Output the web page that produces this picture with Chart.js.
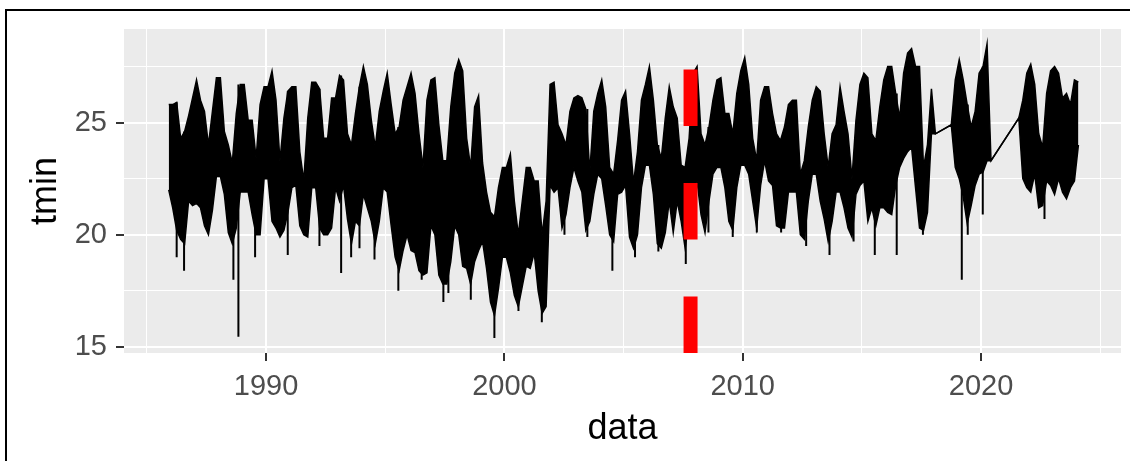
<!DOCTYPE html>
<html>
<head>
<meta charset="utf-8">
<script src="https://cdn.jsdelivr.net/npm/chart.js@4.4.0/dist/chart.umd.min.js"></script>
<style>
  html, body { margin: 0; padding: 0; background: #fff; overflow: hidden; }
  #wrap { position: relative; width: 1130px; height: 461px; }
  #frame { position: absolute; left: 5px; top: 9px; width: 1140px; height: 480px;
           border-left: 2px solid #000; border-top: 2px solid #000; }
  canvas { position: absolute; left: 0; top: 0; }
</style>
</head>
<body>
<div id="wrap"><canvas id="chart" width="1130" height="461"></canvas><div id="frame"></div></div>
<script>
// each year is split in six two-month bins (Jan-Feb ... Nov-Dec)
const firstYear = 1985;
const binsPerYear = 6;

// upper edge of the daily tmin band, per bin (null = no data)
const tminHigh = [
  null, null, null, null, null, 25.8, // 1985
  25.8, 25.9, 24.3, 24.6, 25.3, 26.1, // 1986
  26.9, 26.0, 25.5, 24.0, 25.5, 27.0, // 1987
  27.0, 24.6, 24.0, 23.2, 25.4, 26.7, // 1988
  26.7, 25.1, 25.1, 23.4, 25.8, 26.6, // 1989
  26.6, 27.3, 26.0, 23.3, 25.2, 26.4, // 1990
  26.6, 26.6, 23.7, 22.4, 25.2, 26.8, // 1991
  26.8, 26.5, 24.3, 24.3, 26.1, 26.1, // 1992
  27.1, 26.9, 24.5, 24.0, 25.4, 26.6, // 1993
  27.5, 26.7, 25.1, 23.9, 25.5, 26.4, // 1994
  27.2, 25.8, 24.5, 24.8, 26.0, 26.6, // 1995
  27.2, 26.3, 24.5, 23.0, 26.0, 26.9, // 1996
  27.0, 24.9, 23.3, 23.3, 25.7, 27.2, // 1997
  27.8, 27.3, 24.3, 23.0, 25.7, 26.2, // 1998
  23.2, 21.9, 21.0, 20.8, 22.1, 23.0, // 1999
  23.0, 23.6, 21.5, 20.0, 21.5, 23.0, // 2000
  23.0, 22.4, 22.4, 20.0, 21.5, 26.7, // 2001
  26.8, 24.9, 24.5, 24.0, 25.5, 26.1, // 2002
  26.2, 26.1, 25.6, 22.8, 25.5, 26.3, // 2003
  26.9, 25.7, 23.0, 22.7, 24.2, 26.0, // 2004
  26.4, 24.5, 22.3, 23.7, 26.0, 26.7, // 2005
  27.5, 26.0, 24.0, 23.4, 25.2, 26.6, // 2006
  25.7, 25.2, 23.1, 23.0, 24.3, 27.2, // 2007
  27.5, 24.5, 24.0, 24.8, 26.0, 26.9, // 2008
  27.0, 25.4, 25.4, 24.5, 26.3, 27.3, // 2009
  27.9, 26.7, 24.3, 23.3, 26.0, 26.6, // 2010
  26.6, 25.4, 24.5, 24.2, 24.8, 25.8, // 2011
  26.0, 26.0, 22.7, 23.3, 24.8, 26.0, // 2012
  26.6, 26.4, 24.5, 23.0, 24.5, 24.9, // 2013
  26.6, 25.5, 24.5, 22.5, 25.1, 26.7, // 2014
  27.2, 27.0, 24.5, 24.2, 25.7, 26.9, // 2015
  27.5, 27.5, 26.3, 25.2, 27.2, 28.1, // 2016
  28.3, 27.5, 27.5, 23.0, 24.0, 26.5, // 2017
  24.5, null, null, null, 24.9, 26.9, // 2018
  27.8, 26.9, 25.8, 24.8, 25.5, 27.2, // 2019
  27.5, 28.5, 23.3, null, null, null, // 2020
  null, null, null, 25.2, 26.0, 27.2, // 2021
  27.6, 26.7, 24.5, 23.9, 26.3, 27.3, // 2022
  27.5, 27.2, 26.1, 26.3, 25.8, 26.9, // 2023
  26.8                                // 2024
];

// lower edge of the daily tmin band, per bin
const tminLow = [
  null, null, null, null, null, 22.0, // 1985
  21.2, 20.2, 19.8, 19.6, 21.5, 21.3, // 1986
  21.4, 21.2, 20.4, 20.0, 21.1, 22.6, // 1987
  22.6, 21.8, 20.1, 19.6, 20.3, 21.9, // 1988
  21.9, 21.9, 20.9, 20.0, 20.0, 22.5, // 1989
  22.5, 20.6, 20.3, 19.9, 20.2, 21.0, // 1990
  22.1, 22.2, 20.4, 20.0, 19.9, 22.1, // 1991
  22.1, 20.3, 20.0, 20.0, 20.3, 22.1, // 1992
  21.5, 22.2, 20.7, 19.6, 20.6, 20.4, // 1993
  21.8, 21.2, 20.6, 19.6, 20.6, 22.1, // 1994
  21.9, 20.4, 19.0, 18.4, 19.3, 20.0, // 1995
  19.3, 19.2, 18.4, 18.2, 18.3, 20.4, // 1996
  20.0, 18.2, 17.8, 17.8, 18.8, 20.4, // 1997
  20.0, 18.6, 18.5, 17.8, 18.8, 19.3, // 1998
  19.7, 18.5, 17.0, 16.4, 17.6, 19.0, // 1999
  19.0, 18.3, 17.3, 16.8, 17.7, 18.6, // 2000
  18.5, 19.2, 17.5, 16.5, 16.8, 22.2, // 2001
  21.9, 22.1, 20.3, 20.9, 22.1, 23.0, // 2002
  22.4, 21.9, 20.2, 20.6, 21.8, 22.7, // 2003
  22.5, 21.3, 20.0, 19.7, 21.8, 21.9, // 2004
  22.2, 19.9, 19.4, 20.0, 22.1, 23.1, // 2005
  23.1, 21.8, 19.6, 19.4, 20.1, 21.5, // 2006
  20.1, 21.5, 20.6, 19.4, 20.7, 22.2, // 2007
  22.4, 20.9, 20.1, 21.5, 22.7, 23.0, // 2008
  23.0, 22.1, 20.6, 20.2, 22.1, 23.1, // 2009
  23.1, 22.7, 21.5, 20.3, 22.2, 23.3, // 2010
  22.4, 22.2, 20.4, 20.3, 20.3, 21.9, // 2011
  21.9, 21.9, 20.0, 19.8, 21.5, 22.7, // 2012
  22.7, 21.5, 20.7, 19.7, 20.6, 21.9, // 2013
  21.9, 21.2, 20.3, 19.9, 21.8, 22.2, // 2014
  22.4, 20.6, 21.2, 20.4, 21.2, 21.2, // 2015
  21.0, 20.9, 22.2, 23.0, 23.4, 23.7, // 2016
  23.9, 22.1, 20.3, 20.2, 21.0, 24.5, // 2017
  24.5, null, null, null, 24.9, 23.0, // 2018
  22.5, 21.7, 20.5, 21.3, 22.2, 22.7, // 2019
  22.8, 23.3, 23.3, null, null, null, // 2020
  null, null, null, 25.2, 22.5, 22.1, // 2021
  21.9, 22.7, 21.2, 21.3, 22.4, 22.2, // 2022
  21.8, 22.5, 21.9, 21.6, 22.1, 22.4, // 2023
  24.0                                // 2024
];

// single cold days that stick out below the band
const spikeDates = [1986.25, 1986.56, 1988.63, 1988.84, 1989.54, 1990.91, 1992.24, 1993.15,
  1993.57, 1993.92, 1994.55, 1995.55, 1996.53, 1997.44, 1997.65, 1998.59, 1999.58, 2000.59,
  2001.57, 2002.52, 2003.48, 2004.53, 2005.48, 2006.46, 2007.61, 2008.56, 2009.58, 2010.59,
  2011.61, 2012.66, 2013.64, 2014.65, 2015.54, 2016.46, 2017.56, 2019.19, 2019.44, 2020.07,
  2022.66];
const spikeLows = [19.0, 18.4, 18.0, 15.45, 19.0, 19.1, 19.5, 18.3,
  19.0, 19.4, 18.9, 17.5, 18.0, 17.0, 17.4, 17.1, 15.4, 16.6,
  16.1, 20.0, 19.9, 18.4, 19.0, 19.25, 18.7, 20.1, 19.9, 20.1,
  20.1, 19.5, 19.1, 19.7, 19.1, 19.1, 20.0, 18.0, 20.0, 20.9,
  20.7];

const vlineDate = [2007.81];

const xLimits = [1984.04, 2025.87];
const yLimits = [14.73, 29.17];
const xTickLabels = [1990, 2000, 2010, 2020];
const yTickLabels = [15, 20, 25];

function binCenter(i) {
  return firstYear + (i + 0.5) / binsPerYear;
}

const highPoints = tminHigh.map((v, i) => ({ x: binCenter(i), y: v }));
const lowPoints = tminLow.map((v, i) => ({ x: binCenter(i), y: v }));

const spikePoints = [];
spikeDates.forEach((d, i) => {
  const top = tminHigh[Math.floor((d - firstYear) * binsPerYear)];
  spikePoints.push({ x: d, y: spikeLows[i] });
  spikePoints.push({ x: d, y: top });
  spikePoints.push({ x: d, y: null });
});

const vlinePoints = [
  { x: vlineDate[0], y: yLimits[0] },
  { x: vlineDate[0], y: yLimits[1] }
];

// grey ggplot panel
const panelBackground = {
  id: 'panelBackground',
  beforeDraw(chart) {
    const { ctx, chartArea } = chart;
    ctx.save();
    ctx.fillStyle = '#EBEBEB';
    ctx.fillRect(chartArea.left, chartArea.top, chartArea.right - chartArea.left, chartArea.bottom - chartArea.top);
    ctx.restore();
  }
};

const fontFamily = "'Liberation Sans', Arial, sans-serif";

new Chart(document.getElementById('chart').getContext('2d'), {
  type: 'line',
  data: {
    datasets: [{
      label: 'tmin high',
      data: highPoints,
      borderColor: '#000000',
      borderWidth: 1.5,
      pointRadius: 0,
      spanGaps: true,
      fill: false,
      clip: 0,
      order: 1
    }, {
      label: 'tmin low',
      data: lowPoints,
      borderColor: '#000000',
      backgroundColor: '#000000',
      borderWidth: 1.5,
      pointRadius: 0,
      spanGaps: true,
      fill: '-1',
      clip: 0,
      order: 1
    }, {
      label: 'spikes',
      data: spikePoints,
      borderColor: '#000000',
      borderWidth: 2,
      pointRadius: 0,
      spanGaps: false,
      fill: false,
      clip: 0,
      order: 1
    }, {
      label: 'vline',
      data: vlinePoints,
      borderColor: '#FF0000',
      borderWidth: 14,
      borderDash: [56.5, 57],
      borderCapStyle: 'butt',
      pointRadius: 0,
      fill: false,
      clip: 0,
      order: 0 // drawn on top of the series
    }]
  },
  options: {
    responsive: false,
    animation: false,
    events: [],
    layout: { padding: { top: 29, right: 9, left: 0, bottom: 0 } },
    plugins: {
      legend: { display: false },
      tooltip: { enabled: false }
    },
    scales: {
      x: {
        type: 'linear',
        min: xLimits[0],
        max: xLimits[1],
        afterFit: (scale) => { scale.height = 108; },
        border: { display: false },
        grid: {
          color: '#FFFFFF',
          lineWidth: (c) => (c.tick && xTickLabels.includes(c.tick.value) ? 2 : 1),
          tickLength: 8,
          tickWidth: 2,
          tickColor: (c) => (c.tick && xTickLabels.includes(c.tick.value) ? '#333333' : 'rgba(0,0,0,0)')
        },
        ticks: {
          stepSize: 5,
          includeBounds: false,
          autoSkip: false,
          maxRotation: 0,
          padding: 9,
          color: '#4D4D4D',
          font: { family: fontFamily, size: 29 },
          callback: (v) => (xTickLabels.includes(v) ? String(v) : '')
        },
        title: {
          display: true,
          text: 'data',
          color: '#000000',
          font: { family: fontFamily, size: 36 },
          padding: { top: 0, bottom: 10 }
        }
      },
      y: {
        type: 'linear',
        min: yLimits[0],
        max: yLimits[1],
        afterFit: (scale) => { scale.width = 124; },
        border: { display: false },
        grid: {
          color: '#FFFFFF',
          lineWidth: (c) => (c.tick && yTickLabels.includes(c.tick.value) ? 2 : 1),
          tickLength: 8,
          tickWidth: 2,
          tickColor: (c) => (c.tick && yTickLabels.includes(c.tick.value) ? '#333333' : 'rgba(0,0,0,0)')
        },
        ticks: {
          stepSize: 2.5,
          includeBounds: false,
          autoSkip: false,
          padding: 9,
          color: '#4D4D4D',
          font: { family: fontFamily, size: 29 },
          callback: (v) => (yTickLabels.includes(v) ? String(v) : '')
        },
        title: {
          display: true,
          text: 'tmin',
          color: '#000000',
          font: { family: fontFamily, size: 36 },
          padding: { top: 24, bottom: 0 }
        }
      }
    }
  },
  plugins: [panelBackground]
});
</script>
</body>
</html>
